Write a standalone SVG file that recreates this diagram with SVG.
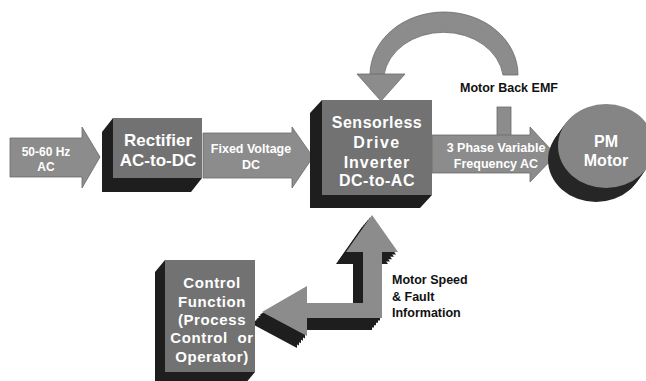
<svg xmlns="http://www.w3.org/2000/svg" xmlns:xlink="http://www.w3.org/1999/xlink" width="646" height="381" viewBox="0 0 646 381">
<defs>
<style>
.arrow{fill:#8c8c8c;stroke:#6a6a6a;stroke-width:0.8}
.front{fill:#727272}
.side{fill:#1e1e1e}
.wt{fill:#fff;font-family:"Liberation Sans",Arial,sans-serif;font-weight:bold;text-anchor:middle}
.bk{fill:#111;font-family:"Liberation Sans",Arial,sans-serif;font-weight:bold}
</style>
<polygon id="lshape" points="372,215 398,252 382,252 382,318 307,318 307,336 262,312 307,286 307,303 363,303 363,252 346,252"/>
<ellipse id="motorFace" cx="606" cy="146" rx="48" ry="42"/>
</defs>
<rect width="646" height="381" fill="#fff"/>

<g id="connectors">
  <polygon id="ac-in" class="arrow" points="10,138 82,138 82,127 100,157 82,188 82,177 10,177"/>
  <polygon id="dc-link" class="arrow" points="203,133 292,133 292,127 313,157 292,188 292,178 203,178"/>
  <rect id="emf-stub" x="497" y="107" width="14" height="30" fill="#8c8c8c" stroke="#6a6a6a" stroke-width="0.8"/>
  <polygon id="ac-out" class="arrow" points="432,135 530,135 530,127 556,155 530,182 530,173 432,173"/>
  <g id="emf-arc">
    <path class="arrow" d="M370,75 A74,63 0 0 1 518,75 L503,75 A60,49 0 0 0 384,75 Z"/>
    <polygon class="arrow" points="357,74 405,74 381,101"/>
  </g>
  <g id="speed-fault">
    <g fill="#1e1e1e">
      <use xlink:href="#lshape" transform="translate(-2,2.4)"/>
      <use xlink:href="#lshape" transform="translate(-4,4.8)"/>
      <use xlink:href="#lshape" transform="translate(-6,7.2)"/>
      <use xlink:href="#lshape" transform="translate(-8,9.6)"/>
      <use xlink:href="#lshape" transform="translate(-10,12)"/>
    </g>
    <use xlink:href="#lshape" fill="#8c8c8c"/>
  </g>
</g>

<g id="rectifier">
  <polygon class="side" points="113,118 202,118 202,178 191,192 102,192 102,132"/>
  <rect class="front" x="113" y="118" width="89" height="60"/>
  <text class="wt" font-size="17" x="158" y="146">Rectifier</text>
  <text class="wt" font-size="17" x="158" y="166">AC-to-DC</text>
</g>

<g id="inverter">
  <polygon class="side" points="322,100 432,100 432,195 420,208 310,208 310,113"/>
  <rect class="front" x="322" y="100" width="110" height="95"/>
  <text class="wt" font-size="16" x="377" y="128" letter-spacing="0.5">Sensorless</text>
  <text class="wt" font-size="16" x="377" y="148" letter-spacing="1.5">Drive</text>
  <text class="wt" font-size="16" x="377" y="168" letter-spacing="1">Inverter</text>
  <text class="wt" font-size="16" x="377" y="186" letter-spacing="0.5">DC-to-AC</text>
</g>

<g id="control">
  <polygon class="side" points="165,260 255,260 255,372 245,384 155,384 155,272"/>
  <rect class="front" x="165" y="260" width="90" height="112"/>
  <text class="wt" font-size="15" x="212" y="288" letter-spacing="0.6">Control</text>
  <text class="wt" font-size="15" x="212" y="307" letter-spacing="0.6">Function</text>
  <text class="wt" font-size="15" x="212" y="325" letter-spacing="0.6">(Process</text>
  <text class="wt" font-size="15" x="212" y="343" letter-spacing="0.6" xml:space="preserve">Control  or</text>
  <text class="wt" font-size="15" x="212" y="362" letter-spacing="0.6">Operator)</text>
</g>

<g id="pm-motor">
  <g fill="#262626">
    <use xlink:href="#motorFace" transform="translate(-2,2.8)"/>
    <use xlink:href="#motorFace" transform="translate(-4,5.6)"/>
    <use xlink:href="#motorFace" transform="translate(-6,8.4)"/>
    <use xlink:href="#motorFace" transform="translate(-8,11.2)"/>
    <use xlink:href="#motorFace" transform="translate(-10,14)"/>
  </g>
  <use xlink:href="#motorFace" fill="#858585"/>
  <text class="wt" font-size="16" x="606" y="147">PM</text>
  <text class="wt" font-size="16" x="606" y="166">Motor</text>
</g>

<g id="labels">
  <text class="wt" font-size="12" x="46" y="156">50-60 Hz</text>
  <text class="wt" font-size="12" x="46" y="171">AC</text>
  <text class="wt" font-size="12.5" x="251" y="153">Fixed Voltage</text>
  <text class="wt" font-size="12.5" x="251" y="169">DC</text>
  <text class="wt" font-size="12.5" x="496" y="152">3 Phase Variable</text>
  <text class="wt" font-size="12.5" x="496" y="168">Frequency AC</text>
  <text class="bk" font-size="12.5" x="460" y="92">Motor Back EMF</text>
  <text class="bk" font-size="12.5" x="392" y="284">Motor Speed</text>
  <text class="bk" font-size="12.5" x="392" y="301">&amp; Fault</text>
  <text class="bk" font-size="12.5" x="392" y="317">Information</text>
</g>
</svg>
